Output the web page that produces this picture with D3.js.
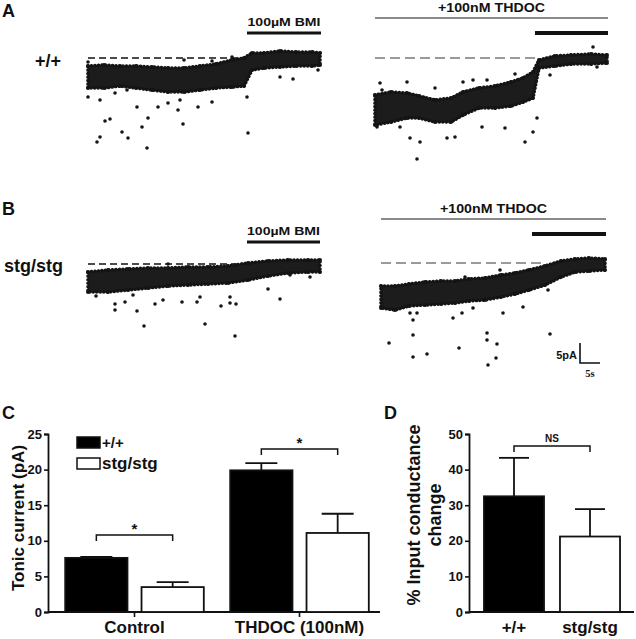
<!DOCTYPE html>
<html><head><meta charset="utf-8">
<script src="https://cdn.jsdelivr.net/npm/d3@7"></script>
<style>body{margin:0;background:#fff}svg{display:block}</style>
</head><body>
<svg id="fig" width="636" height="639"></svg>
<script>
// ================= DATA =================
// Panels A/B: holding-current traces (time in s, current in pA relative to BMI baseline)
const aWtT   = [0, 4, 8, 12, 16, 20, 24, 28, 32, 36, 39, 41, 44, 48, 52, 56, 58];
const aWtHi  = [-2, -1.75, -2, -2, -2.25, -2.5, -2.5, -2, -1.5, -0.5, 0, 1.25, 1.25, 1.75, 1.5, 1.5, 1.25];
const aWtLo  = [-7.5, -7.5, -7, -7.5, -8, -8.5, -8.5, -8, -7.5, -7.25, -7, -3, -2.5, -2.25, -2, -2, -1.75];
const aWtOut = [[0,-9.75],[2.25,-21],[3,-19.75],[4.25,-15.75],[5.5,-15.25],[8.5,-18.5],[10,-20],[13.5,-17.25],
  [14.75,-22.5],[15,-15],[12.25,-12.25],[17.5,-12.25],[20,-11.25],[22.5,-13],[23.75,-16.5],[23,-10.5],
  [27.5,-12.25],[31,-11],[39.75,-9.75],[40,-18.75],[48,-4.75],[51.25,-5.25],[57.5,-3],[3,-10.5],
  [6.75,-8.75],[9.75,-8],[0,-1],[36,0.25],[24,-0.5],[31,-0.75]];

const aThT   = [0, 4, 8, 11, 15, 19, 22, 26, 30, 34, 37, 39.5, 41, 45, 49, 54, 58];
const aThHi  = [-9.25, -8.5, -8.75, -9.5, -10.5, -10, -8.5, -7.5, -7, -6, -5, -3.5, -0.5, 0.5, 0.75, 1, 0.75];
const aThLo  = [-16.75, -16, -15, -15, -16, -16, -14.25, -12.5, -12.5, -12, -11, -10, -2.5, -2, -1.5, -1.5, -1.25];
const aThOut = [[1.25,-6.25],[1.75,-8],[0.5,-17.25],[6.25,-17.25],[8.75,-20],[11.25,-21],[10.5,-25.25],[8,-6],
  [18,-20],[20,-19.75],[22,-6],[24.5,-5.5],[26.75,-17.25],[32.5,-17.5],[37.5,-21],[39.5,-18.5],[40.5,-15],
  [54.5,2.75],[55.5,-2.25],[43.75,-4.25],[15,-7.5],[28,-5.5],[35,-4]];

const bStT   = [0, 5, 10, 15, 20, 25, 30, 35, 40, 45, 50, 55, 58];
const bStHi  = [-2, -1.5, -1.25, -1, -1, -0.75, -0.75, -0.5, 0.25, 0.75, 1, 1, 1];
const bStLo  = [-7, -7, -6.5, -6, -5.5, -5.25, -5, -4.75, -4, -3, -2.25, -2, -2];
const bStOut = [[6.75,-10],[6.75,-11.5],[9.25,-9.5],[12.25,-11.75],[14,-15.5],[11.25,-7.75],[16.75,-10],
  [18.75,-9],[23.5,-9.5],[27.25,-9.5],[29.25,-15],[28,-8.25],[33.25,-10.5],[35.5,-9.75],[37,-10],
  [36.75,-18],[35.5,-8.25],[45,-6.25],[48,-8.75],[55.5,-3.25],[50.5,-2.75],[2,-8],[20,0]];

const bThT   = [0, 3.5, 7, 11, 15, 18.5, 22, 26, 30, 33.5, 37, 41, 45, 48.5, 52, 56];
const bThHi  = [-5.75, -5.75, -5.25, -4.75, -4.5, -4.5, -4, -3.75, -3, -2.5, -1.75, -0.75, 0.5, 1, 1.25, 1];
const bThLo  = [-11.25, -11.75, -10.75, -10.5, -10.25, -10, -9.5, -9.25, -8.5, -7.75, -6.75, -5.5, -3.5, -2.25, -2, -1.75];
const bThOut = [[2,-20],[8,-18],[8,-23.5],[11.5,-22.75],[19.5,-21.25],[26.5,-17.5],[26.5,-19.25],[26.75,-25.5],
  [29,-20.25],[28.75,-23.75],[42.25,-17.75],[7.25,-12.5],[9,-12.5],[8,-14.25],[18,-13.75],[20.25,-12.5],
  [23,-11.25],[30.5,-12.5],[35.5,-11],[41.75,-6.75],[29.75,-1.75],[21,-3.5]];

// drug application periods (s)
const bmiPeriodA = [39.75, 58.25];
const bmiPeriodThA = [40, 58.25];
const thdocPeriodA = [0, 58.25];
const bmiPeriodB = [39.75, 58];
const bmiPeriodThB = [37.75, 56.25];
const thdocPeriodB = [0, 56.25];

// Panel C: tonic current (pA)
const conditions = ["Control", "THDOC (100nM)"];
const genotypes = ["+/+", "stg/stg"];
const tonicWt = [7.6, 19.9];
const tonicWtErr = [0.15, 1.0];
const tonicStg = [3.5, 11.1];
const tonicStgErr = [0.7, 2.7];
const tonicSig = ["*", "*"];
const tonicSigLevel = [10.8, 22.9];
const tonicTicks = [0, 5, 10, 15, 20, 25];

// Panel D: % input conductance change
const condMean = [32.5, 21.2];
const condErr = [10.8, 7.7];
const condSig = "NS";
const condSigLevel = 46.6;
const condTicks = [0, 10, 20, 30, 40, 50];

// ================= DRAWING =================
const FONT = "'Liberation Sans', Arial, Helvetica, sans-serif";
const INK = "#141414";
const svg = d3.select("#fig").style("font-family", FONT);
svg.append("rect").attr("width", 636).attr("height", 639).attr("fill", "#fff");

function txt(x, y, s, size, anchor, extra) {
  const t = svg.append("text").attr("x", x).attr("y", y).text(s)
    .attr("font-size", size).attr("font-weight", "bold").attr("fill", "#111")
    .attr("text-anchor", anchor || "start");
  if (extra) extra(t);
  return t;
}

// panel letters
txt(2, 17, "A", 18);
txt(2, 215, "B", 18);
txt(2, 419, "C", 18);
txt(384, 419, "D", 18);
// genotype row labels
txt(35, 67, "+/+", 18);
txt(4, 272, "stg/stg", 18);

function drawTrace(cfg) {
  const g = svg.append("g");
  const x = d3.scaleLinear().domain([0, 1]).range([cfg.x0, cfg.x0 + 4]);
  const y = d3.scaleLinear().domain([0, -1]).range([cfg.y0, cfg.y0 + 4]);
  // baseline dashed
  g.append("line").attr("x1", x(0)).attr("x2", x(cfg.dashEnd))
    .attr("y1", y(0)).attr("y2", y(0))
    .attr("stroke", cfg.dashColor).attr("stroke-width", cfg.dashWidth)
    .attr("stroke-dasharray", cfg.dash);
  // dense band of sampled points (envelope), with a beaded edge
  const idx = d3.range(cfg.t.length);
  const area = d3.area().x(i => x(cfg.t[i])).y0(i => y(cfg.lo[i])).y1(i => y(cfg.hi[i]));
  g.append("path").attr("d", area(idx)).attr("fill", "#1c1c1c")
    .attr("stroke", INK).attr("stroke-width", 3.6).attr("stroke-linecap", "round")
    .attr("stroke-dasharray", "0.1,3.4");
  const edge = idx.map(i => [cfg.t[i], cfg.hi[i]]).concat(idx.map(i => [cfg.t[i], cfg.lo[i]]));
  g.selectAll(".e").data(edge).join("circle")
    .attr("cx", d => x(d[0])).attr("cy", d => y(d[1])).attr("r", 2).attr("fill", INK);
  g.selectAll(".o").data(cfg.out).join("circle")
    .attr("cx", d => x(d[0])).attr("cy", d => y(d[1])).attr("r", 1.8).attr("fill", INK);
  // drug bars
  if (cfg.thdoc) {
    g.append("line").attr("x1", x(cfg.thdoc[0])).attr("x2", x(cfg.thdoc[1]))
      .attr("y1", cfg.thY).attr("y2", cfg.thY).attr("stroke", "#8a8a8a").attr("stroke-width", 2.2);
    txt((x(cfg.thdoc[0]) + x(cfg.thdoc[1])) / 2, cfg.thY - 6, "+100nM THDOC", 12.5, "middle",
      t => t.attr("textLength", 107).attr("lengthAdjust", "spacingAndGlyphs"));
  }
  g.append("line").attr("x1", x(cfg.bmi[0])).attr("x2", x(cfg.bmi[1]))
    .attr("y1", cfg.bmiY).attr("y2", cfg.bmiY).attr("stroke", "#111").attr("stroke-width", cfg.bmiW);
  if (cfg.bmiLabel) {
    txt((x(cfg.bmi[0]) + x(cfg.bmi[1])) / 2, cfg.bmiY - 7, "100\u00b5M BMI", 11.5, "middle",
      t => t.attr("textLength", 73).attr("lengthAdjust", "spacingAndGlyphs"));
  }
  return { x, y };
}

drawTrace({ x0: 88, y0: 58, t: aWtT, hi: aWtHi, lo: aWtLo, out: aWtOut, dashEnd: 39.25,
  dashColor: "#111", dashWidth: 1.3, dash: "7,4", bmi: bmiPeriodA, bmiY: 33, bmiW: 3, bmiLabel: true });
drawTrace({ x0: 375, y0: 58, t: aThT, hi: aThHi, lo: aThLo, out: aThOut, dashEnd: 40,
  dashColor: "#9a9a9a", dashWidth: 2, dash: "10,5", bmi: bmiPeriodThA, bmiY: 33, bmiW: 4,
  thdoc: thdocPeriodA, thY: 18 });
drawTrace({ x0: 88, y0: 264, t: bStT, hi: bStHi, lo: bStLo, out: bStOut, dashEnd: 39.25,
  dashColor: "#111", dashWidth: 1.3, dash: "7,4", bmi: bmiPeriodB, bmiY: 242, bmiW: 3, bmiLabel: true });
drawTrace({ x0: 381, y0: 263, t: bThT, hi: bThHi, lo: bThLo, out: bThOut, dashEnd: 41,
  dashColor: "#9a9a9a", dashWidth: 2, dash: "10,5", bmi: bmiPeriodThB, bmiY: 234, bmiW: 4,
  thdoc: thdocPeriodB, thY: 219 });

// scale bar (5 pA, 5 s)
(function () {
  const sx = d3.scaleLinear().domain([0, 5]).range([580, 600]);
  const sy = d3.scaleLinear().domain([0, 5]).range([363, 343]);
  svg.append("path").attr("d", `M${sx(0)},${sy(5)}V${sy(0)}H${sx(5)}`)
    .attr("fill", "none").attr("stroke", "#111").attr("stroke-width", 1.6);
  txt(577, 359, "5pA", 11, "end");
  txt(590, 377, "5s", 10.5, "middle", t => t.attr("font-family", "'Liberation Serif', serif"));
})();

// ---------- Panel C ----------
(function () {
  const yC = d3.scaleLinear().domain([0, 25]).range([612, 434]);
  const x0 = d3.scaleBand().domain(conditions).range([52, 382]).paddingInner(0.16).paddingOuter(0.08);
  const x1 = d3.scaleBand().domain(genotypes).range([0, x0.bandwidth()]).paddingInner(0.184);
  const g = svg.append("g");
  const ax = g.append("g").attr("transform", "translate(48,0)")
    .call(d3.axisLeft(yC).tickValues(tonicTicks).tickSize(4).tickPadding(2));
  ax.select(".domain").attr("stroke", "#111").attr("stroke-width", 1.8);
  ax.selectAll(".tick line").attr("stroke", "#111").attr("stroke-width", 1.6);
  ax.selectAll("text").attr("font-size", 13).attr("font-weight", "bold").attr("fill", "#111")
    .attr("font-family", FONT);
  g.append("line").attr("x1", 48).attr("x2", 380).attr("y1", yC(0)).attr("y2", yC(0))
    .attr("stroke", "#111").attr("stroke-width", 1.8);
  conditions.forEach((c, i) => {
    const cx = x0(c) + x0.bandwidth() / 2;
    g.append("line").attr("x1", cx).attr("x2", cx).attr("y1", yC(0)).attr("y2", yC(0) + 5)
      .attr("stroke", "#111").attr("stroke-width", 1.6);
    txt(cx, 633, c, 17, "middle");
    const vals = [tonicWt[i], tonicStg[i]], errs = [tonicWtErr[i], tonicStgErr[i]];
    genotypes.forEach((gt, j) => {
      const bx = x0(c) + x1(gt), bw = x1.bandwidth(), mid = bx + bw / 2;
      const top = vals[j] + errs[j];
      g.append("line").attr("x1", mid).attr("x2", mid).attr("y1", yC(vals[j])).attr("y2", yC(top))
        .attr("stroke", "#111").attr("stroke-width", 1.8);
      g.append("line").attr("x1", mid - 16).attr("x2", mid + 16).attr("y1", yC(top)).attr("y2", yC(top))
        .attr("stroke", "#111").attr("stroke-width", 1.8);
      g.append("rect").attr("x", bx).attr("y", yC(vals[j])).attr("width", bw)
        .attr("height", yC(0) - yC(vals[j]))
        .attr("fill", j === 0 ? "#000" : "#fff").attr("stroke", "#111").attr("stroke-width", 1.8);
    });
    const xa = x0(c) + x1(genotypes[0]) + x1.bandwidth() / 2;
    const xb = x0(c) + x1(genotypes[1]) + x1.bandwidth() / 2;
    const yy = yC(tonicSigLevel[i]);
    g.append("path").attr("d", `M${xa},${yy + 6}V${yy}H${xb}V${yy + 6}`)
      .attr("fill", "none").attr("stroke", "#111").attr("stroke-width", 1.5);
    txt((xa + xb) / 2, yy - 1, tonicSig[i], 15, "middle");
  });
  // legend
  g.append("rect").attr("x", 77).attr("y", 437).attr("width", 23).attr("height", 11)
    .attr("fill", "#000").attr("stroke", "#111").attr("stroke-width", 1.5);
  g.append("rect").attr("x", 77).attr("y", 458).attr("width", 23).attr("height", 11)
    .attr("fill", "#fff").attr("stroke", "#111").attr("stroke-width", 1.5);
  txt(102, 448, genotypes[0], 15);
  txt(102, 469, genotypes[1], 17);
  txt(0, 0, "Tonic current (pA)", 17, "middle", t => t.attr("transform", "translate(24,518) rotate(-90)"));
})();

// ---------- Panel D ----------
(function () {
  const yD = d3.scaleLinear().domain([0, 50]).range([612, 434]);
  const xD = d3.scaleBand().domain(genotypes).range([469, 635]).paddingInner(0.21).paddingOuter(0.197);
  const g = svg.append("g");
  const ax = g.append("g").attr("transform", "translate(469,0)")
    .call(d3.axisLeft(yD).tickValues(condTicks).tickSize(4).tickPadding(2));
  ax.select(".domain").attr("stroke", "#111").attr("stroke-width", 1.8);
  ax.selectAll(".tick line").attr("stroke", "#111").attr("stroke-width", 1.6);
  ax.selectAll("text").attr("font-size", 13).attr("font-weight", "bold").attr("fill", "#111")
    .attr("font-family", FONT);
  g.append("line").attr("x1", 469).attr("x2", 634).attr("y1", yD(0)).attr("y2", yD(0))
    .attr("stroke", "#111").attr("stroke-width", 1.8);
  genotypes.forEach((gt, j) => {
    const bx = xD(gt), bw = xD.bandwidth(), mid = bx + bw / 2;
    const top = condMean[j] + condErr[j];
    g.append("line").attr("x1", mid).attr("x2", mid).attr("y1", yD(condMean[j])).attr("y2", yD(top))
      .attr("stroke", "#111").attr("stroke-width", 1.8);
    g.append("line").attr("x1", mid - 15).attr("x2", mid + 15).attr("y1", yD(top)).attr("y2", yD(top))
      .attr("stroke", "#111").attr("stroke-width", 1.8);
    g.append("rect").attr("x", bx).attr("y", yD(condMean[j])).attr("width", bw)
      .attr("height", yD(0) - yD(condMean[j]))
      .attr("fill", j === 0 ? "#000" : "#fff").attr("stroke", "#111").attr("stroke-width", 1.8);
    txt(mid, 633, gt, 17, "middle");
  });
  const xa = xD(genotypes[0]) + xD.bandwidth() / 2, xb = xD(genotypes[1]) + xD.bandwidth() / 2;
  const yy = yD(condSigLevel);
  g.append("path").attr("d", `M${xa},${yy + 6}V${yy}H${xb}V${yy + 6}`)
    .attr("fill", "none").attr("stroke", "#111").attr("stroke-width", 1.5);
  txt((xa + xb) / 2, yy - 4, condSig, 10, "middle");
  txt(0, 0, "% Input conductance", 18, "middle", t => t.attr("transform", "translate(420,515) rotate(-90)"));
  txt(0, 0, "change", 18, "middle", t => t.attr("transform", "translate(441,515) rotate(-90)"));
})();
</script>
</body></html>
